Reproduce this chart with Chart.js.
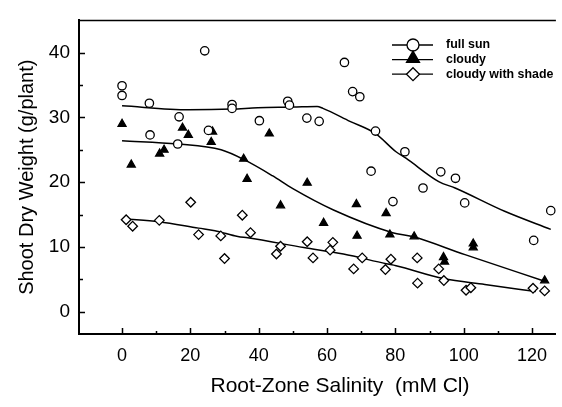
<!DOCTYPE html>
<html>
<head>
<meta charset="utf-8">
<script src="https://cdn.jsdelivr.net/npm/chart.js@4"></script>
<style>
html, body { margin: 0; padding: 0; background: #fff; }
canvas { display: block; }
</style>
</head>
<body>
<canvas id="c" width="562" height="407"></canvas>
<script>
// Observed points (salinity in mM Cl, weight in g/plant).
const sunX = [0, 0, 8.0, 8.2, 16.3, 16.7, 24.2, 25.3, 32.2, 32.2, 40.2, 48.5, 49.0, 54.1,
              57.7, 65.1, 67.5, 69.6, 72.9, 74.2, 79.3, 82.8, 88.1, 93.3, 97.6, 100.3, 120.5, 125.5];
const sunY = [34.9, 33.4, 32.2, 27.3, 25.9, 30.1, 40.3, 28.0, 32.0, 31.4, 29.5, 32.5, 31.9, 29.9,
              29.4, 38.5, 34.0, 33.2, 21.7, 27.9, 17.0, 24.7, 19.1, 21.6, 20.6, 16.8, 11.0, 15.6];

const cloudyX = [0, 2.7, 11.0, 12.3, 17.7, 19.4, 26.1, 26.5, 35.6, 36.6, 43.1, 46.4, 54.2, 59.0,
                 68.6, 68.8, 77.3, 78.4, 85.5, 94.1, 94.4, 102.8, 102.8, 123.7];
const cloudyY = [29.0, 22.7, 24.4, 25.0, 28.4, 27.3, 26.2, 27.8, 23.6, 20.5, 27.5, 16.4, 19.9, 13.7,
                 16.6, 11.7, 15.2, 11.9, 11.6, 8.4, 7.7, 10.5, 9.9, 4.8];

const shadeX = [1.2, 3.1, 10.9, 20.1, 22.4, 28.9, 30.0, 35.2, 37.6, 45.2, 46.4, 54.2, 55.9, 60.9,
                61.7, 67.8, 70.3, 77.1, 78.7, 86.4, 86.5, 92.7, 94.2, 100.7, 102.1, 120.3, 123.7];
const shadeY = [14.2, 13.2, 14.1, 16.9, 11.9, 11.7, 8.2, 14.9, 12.2, 8.9, 10.1, 10.8, 8.3, 9.5,
                10.7, 6.6, 8.3, 6.5, 8.1, 8.3, 4.4, 6.6, 4.8, 3.3, 3.7, 3.6, 3.2];

// Fitted curves.
const sunFitX = [0, 19.5, 32.2, 39.7, 50, 57.1, 58.8, 66.7, 74.2, 80.2, 83.1, 92.7, 97.5, 112.0, 125.5];
const sunFitY = [31.8, 31.2, 31.3, 31.5, 31.6, 31.7, 31.4, 29.4, 27.5, 24.7, 23.7, 20.1, 19.1, 15.5, 12.7];
const cloudyFitX = [0, 16.3, 29.0, 36, 44, 50, 61.9, 79.2, 85.0, 100.4, 123.7];
const cloudyFitY = [26.4, 25.9, 25.0, 23.4, 21.0, 19.0, 15.7, 12.2, 11.6, 8.8, 4.7];
const shadeFitX = [1, 10.8, 22.4, 27.2, 33.9, 36.8, 53.2, 64.8, 77.3, 80.2, 94.1, 106.2, 121.1];
const shadeFitY = [14.3, 13.9, 12.9, 12.5, 11.6, 11.4, 9.9, 8.9, 7.4, 7.1, 5.1, 4.2, 3.1];

const labels = ['full sun', 'cloudy', 'cloudy with shade'];
const xTicks = [0, 20, 40, 60, 80, 100, 120];
const xMinor = [10, 30, 50, 70, 90, 110];
const yTicks = [0, 10, 20, 30, 40];
const yMinor = [5, 15, 25, 35];
const xTitle = 'Root-Zone Salinity  (mM Cl)';
const yTitle = 'Shoot Dry Weight (g/plant)';

const FONT = 'Liberation Sans, Arial, Helvetica, sans-serif';
const pts = (xs, ys) => xs.map((x, i) => ({x, y: ys[i]}));

function markers(label, xs, ys, style, fill, radius) {
    return {
        type: 'scatter', label, data: pts(xs, ys), order: 1,
        pointStyle: style, pointRadius: radius, pointBackgroundColor: fill,
        pointBorderColor: '#000', pointBorderWidth: 1.3, showLine: false,
    };
}

function fit(xs, ys) {
    return {
        type: 'line', data: pts(xs, ys), order: 2,
        borderColor: '#000', borderWidth: 1.5, pointRadius: 0,
        cubicInterpolationMode: 'monotone', fill: false,
    };
}

// Inward tick marks, the top frame line and the x title (set right of centre).
const frame = {
    id: 'frame',
    afterDraw(chart) {
        const {ctx, chartArea: a, scales: {x, y}} = chart;
        ctx.save();
        ctx.strokeStyle = '#000';
        ctx.lineWidth = 1.5;
        ctx.beginPath();
        ctx.moveTo(a.left, a.top);
        ctx.lineTo(a.right, a.top);
        for (const [vs, len] of [[xTicks, 6], [xMinor, 3]]) {
            for (const v of vs) {
                const px = Math.round(x.getPixelForValue(v)) + 0.5;
                ctx.moveTo(px, a.bottom);
                ctx.lineTo(px, a.bottom - len);
            }
        }
        for (const [vs, len] of [[yTicks, 6], [yMinor, 4]]) {
            for (const v of vs) {
                const py = Math.round(y.getPixelForValue(v)) + 0.5;
                ctx.moveTo(a.left, py);
                ctx.lineTo(a.left + len, py);
            }
        }
        ctx.stroke();
        ctx.fillStyle = '#000';
        ctx.font = `21px ${FONT}`;
        ctx.textAlign = 'center';
        ctx.textBaseline = 'middle';
        ctx.fillText(xTitle, 340, 386);
        ctx.restore();
    },
};

// Legend: line with a marker, then the label.
const legendBox = {
    id: 'legendBox',
    afterDraw(chart) {
        const ctx = chart.ctx;
        const sizes = [6, 7.5, 6.5];
        ctx.save();
        chart.data.datasets.slice(0, 3).forEach((ds, i) => {
            const y = 45 + i * 14.6;
            ctx.strokeStyle = '#000';
            ctx.lineWidth = 1.3;
            ctx.beginPath();
            ctx.moveTo(392, y);
            ctx.lineTo(433, y);
            ctx.stroke();
            ctx.fillStyle = ds.pointBackgroundColor;
            Chart.helpers.drawPoint(ctx, {
                pointStyle: ds.pointStyle, radius: sizes[i], borderWidth: 1.3, rotation: 0,
            }, 413, ds.pointStyle === 'triangle' ? y - 1 : y);
            ctx.fillStyle = '#000';
            ctx.font = `bold 12.4px ${FONT}`;
            ctx.textBaseline = 'middle';
            ctx.textAlign = 'left';
            ctx.fillText(ds.label, 446, y);
        });
        ctx.restore();
    },
};

new Chart(document.getElementById('c'), {
    data: {
        datasets: [
            markers(labels[0], sunX, sunY, 'circle', '#fff', 4.2),
            markers(labels[1], cloudyX, cloudyY, 'triangle', '#000', 4.6),
            markers(labels[2], shadeX, shadeY, 'rectRot', '#fff', 4.8),
            fit(sunFitX, sunFitY),
            fit(cloudyFitX, cloudyFitY),
            fit(shadeFitX, shadeFitY),
        ],
    },
    plugins: [frame, legendBox],
    options: {
        responsive: false,
        animation: false,
        layout: {padding: {top: 12, right: 0, left: 0, bottom: 0}},
        plugins: {legend: {display: false}, tooltip: {enabled: false}},
        scales: {
            x: {
                type: 'linear', position: 'bottom', min: -12.6, max: 127,
                afterBuildTicks: s => { s.ticks = xTicks.map(value => ({value})); },
                afterFit: s => { s.height = 73; },
                grid: {display: false, drawTicks: false},
                border: {display: true, color: '#000', width: 2},
                ticks: {color: '#000', font: {family: FONT, size: 18}, padding: 11, maxRotation: 0},
                title: {display: false},
            },
            y: {
                type: 'linear', position: 'left', min: -3.46, max: 45,
                afterBuildTicks: s => { s.ticks = yTicks.map(value => ({value})); },
                afterFit: s => { s.width = 79; },
                grid: {display: false, drawTicks: false},
                border: {display: true, color: '#000', width: 2},
                ticks: {color: '#000', font: {family: FONT, size: 19}, padding: 9},
                title: {
                    display: true, text: yTitle, color: '#000',
                    font: {family: FONT, size: 20}, padding: {top: 15, bottom: 0},
                },
            },
        },
    },
});
</script>
</body>
</html>
